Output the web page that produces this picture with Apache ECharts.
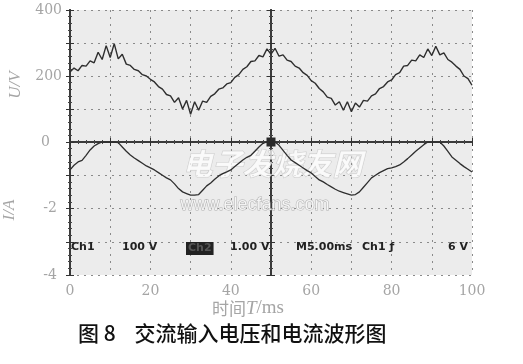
<!DOCTYPE html>
<html><head><meta charset="utf-8">
<script src="https://cdn.jsdelivr.net/npm/echarts@6/dist/echarts.min.js"></script>
<style>html,body{margin:0;padding:0;background:#fff}#c{width:523px;height:364px}</style>
</head><body><div id="c"></div>
<script>
// time axis (ms)
var timeMs = [];
for (var i = 0; i <= 100; i++) timeMs.push(i);
// input voltage U/V, read every 1 ms (noisy oscilloscope trace)
var voltage = [212,224,216,232,230,246,240,272,250,292,256,298,252,266,236,232,220,216,204,200,
  190,182,168,160,144,140,120,134,100,126,84,122,96,124,120,138,146,160,164,176,
  180,196,204,220,228,244,246,262,258,282,266,284,260,264,248,244,230,224,210,202,
  186,178,162,152,136,132,112,122,96,122,92,118,106,126,124,140,146,162,168,182,
  188,204,210,230,232,248,246,264,256,282,262,290,264,270,250,242,230,220,200,192,172];
// input current I/A, read every 1 ms
var current = [-0.84,-0.7,-0.6,-0.55,-0.4,-0.24,-0.12,-0.05,0,0,0,0,-0.02,-0.15,-0.28,-0.39,-0.48,-0.56,-0.64,-0.72,
  -0.78,-0.84,-0.92,-1.0,-1.08,-1.14,-1.26,-1.4,-1.5,-1.55,-1.6,-1.6,-1.58,-1.45,-1.32,-1.23,-1.12,-1.02,-0.95,-0.9,
  -0.84,-0.74,-0.64,-0.54,-0.46,-0.4,-0.28,-0.15,-0.04,0,0,0,-0.1,-0.25,-0.4,-0.54,-0.62,-0.7,-0.78,-0.86,
  -0.93,-1.04,-1.14,-1.2,-1.28,-1.35,-1.42,-1.48,-1.52,-1.56,-1.6,-1.58,-1.5,-1.36,-1.22,-1.08,-1.0,-0.92,-0.86,-0.8,
  -0.78,-0.74,-0.69,-0.6,-0.5,-0.39,-0.28,-0.18,-0.08,0,0,0,0,-0.12,-0.28,-0.45,-0.55,-0.65,-0.74,-0.82,-0.9];
var xTickLabels = [0,20,40,60,80,100];
var uTickLabels = [400,200,0];
var iTickLabels = [-2,-4];

var labelFont = {fontFamily:'DejaVu Serif', fontSize:14, color:'#a5a5a5'};
var split = {show:true, lineStyle:{color:'#8a8a8a', type:[2,5], width:1}};
var border = {show:true, lineStyle:{color:'#3a3a3a', width:2}};
function tickAx(extra){
  return Object.assign({
    axisLine:border,
    axisTick:{show:true, inside:true, length:4, lineStyle:{color:'#333'}},
    minorTick:{show:true, splitNumber:5, length:2, lineStyle:{color:'#444'}},
    axisLabel:{show:false}, splitLine:{show:false}
  }, extra);
}
var xBase = {type:'value', min:0, max:100, interval:10};
var gridBase = {left:70, width:402, show:true, backgroundColor:'#ececec', borderWidth:0, containLabel:false, outerBoundsMode:'none'};

var chart = echarts.init(document.getElementById('c'), null, {renderer:'canvas'});
chart.setOption({
  animation:false,
  backgroundColor:'#fff',
  grid:[
    Object.assign({top:10, height:132}, gridBase),
    Object.assign({top:142, height:133}, gridBase)
  ],
  xAxis:[
    tickAx(Object.assign({gridIndex:0, position:'bottom', splitLine:split}, xBase)),
    tickAx(Object.assign({gridIndex:0, position:'top'}, xBase)),
    tickAx(Object.assign({gridIndex:1, position:'top', splitLine:split}, xBase)),
    tickAx(Object.assign({gridIndex:1, position:'bottom',
      axisLabel:{show:true, margin:9, fontFamily:labelFont.fontFamily, fontSize:labelFont.fontSize, color:labelFont.color,
        formatter:function(v){return xTickLabels.indexOf(v)>=0 ? String(v) : '';}}}, xBase))
  ],
  yAxis:[
    tickAx({gridIndex:0, type:'value', min:0, max:400, interval:100, position:'left', splitLine:split,
      axisLabel:{show:true, margin:8, fontFamily:labelFont.fontFamily, fontSize:labelFont.fontSize, color:labelFont.color,
        rich:{z:{fontFamily:labelFont.fontFamily, fontSize:labelFont.fontSize, color:labelFont.color, padding:[0,12,0,0]}},
        formatter:function(v){ if (uTickLabels.indexOf(v)<0) return ''; return v===0 ? '{z|0}' : String(v);}}}),
    tickAx({gridIndex:0, type:'value', min:0, max:400, interval:100, position:'right'}),
    tickAx({gridIndex:0, type:'value', min:0, max:400, interval:100, position:'left', offset:-201}),
    tickAx({gridIndex:0, type:'value', min:0, max:400, interval:100, position:'left', offset:-201,
      axisTick:{show:true, inside:false, length:4, lineStyle:{color:'#333'}}}),
    tickAx({gridIndex:1, type:'value', min:-4, max:0, interval:1, position:'left', splitLine:split,
      axisLabel:{show:true, margin:13, fontFamily:labelFont.fontFamily, fontSize:labelFont.fontSize, color:labelFont.color,
        formatter:function(v){return iTickLabels.indexOf(v)>=0 ? String(v) : '';}}}),
    tickAx({gridIndex:1, type:'value', min:-4, max:0, interval:1, position:'right'}),
    tickAx({gridIndex:1, type:'value', min:-4, max:0, interval:1, position:'left', offset:-201}),
    tickAx({gridIndex:1, type:'value', min:-4, max:0, interval:1, position:'left', offset:-201,
      axisTick:{show:true, inside:false, length:4, lineStyle:{color:'#333'}}})
  ],
  series:[
    {type:'line', name:'U', xAxisIndex:0, yAxisIndex:0, showSymbol:false, symbol:'none',
      lineStyle:{color:'#2e2e2e', width:1.4},
      data:timeMs.map(function(t,i){return [t, voltage[i]];})},
    {type:'line', name:'I', xAxisIndex:2, yAxisIndex:4, showSymbol:false, symbol:'none',
      lineStyle:{color:'#2e2e2e', width:1.3},
      markPoint:{symbol:'rect', symbolSize:9, silent:true, label:{show:false},
        itemStyle:{color:'#2a2a2a'}, data:[{coord:[50,0]}]},
      data:timeMs.map(function(t,i){return [t, current[i]];})}
  ],
  graphic:[
    {type:'text', x:16, y:85, rotation:Math.PI/2, style:{text:'U/V', textAlign:'center', textVerticalAlign:'middle', fontFamily:'Liberation Serif', fontStyle:'italic', fontSize:17, fill:'#a5a5a5'}},
    {type:'text', x:10, y:210, rotation:Math.PI/2, style:{text:'I/A', textAlign:'center', textVerticalAlign:'middle', fontFamily:'Liberation Serif', fontStyle:'italic', fontSize:17, fill:'#a5a5a5'}},
    {type:'text', left:182, top:148, z:1, style:{text:'电子发烧友网', fontFamily:'Noto Sans CJK SC', fontStyle:'italic', fontWeight:'bold', fontSize:30, fill:'rgba(255,255,255,0.75)', stroke:'rgba(170,170,170,0.5)', lineWidth:1}},
    {type:'text', left:180, top:196, z:1, style:{text:'www.elecfans.com', fontFamily:'Liberation Sans', fontSize:18, fill:'rgba(255,255,255,0.8)', stroke:'rgba(150,150,150,0.7)', lineWidth:1}},
    {type:'text', left:71, top:242, z:10, style:{text:'Ch1', fontFamily:'DejaVu Sans', fontWeight:'bold', fontSize:11, fill:'#222'}},
    {type:'text', left:122, top:242, z:10, style:{text:'100 V', fontFamily:'DejaVu Sans', fontWeight:'bold', fontSize:11, fill:'#222'}},
    {type:'text', left:186, top:242, z:10, style:{text:'Ch2', fontFamily:'DejaVu Sans', fontWeight:'bold', fontSize:11, fill:'#555', backgroundColor:'#222', padding:[1,2]}},
    {type:'text', left:230, top:242, z:10, style:{text:'1.00 V', fontFamily:'DejaVu Sans', fontWeight:'bold', fontSize:11, fill:'#222'}},
    {type:'text', left:296, top:242, z:10, style:{text:'M5.00ms', fontFamily:'DejaVu Sans', fontWeight:'bold', fontSize:11, fill:'#222'}},
    {type:'text', left:362, top:242, z:10, style:{text:'Ch1 ƒ', fontFamily:'DejaVu Sans', fontWeight:'bold', fontSize:11, fill:'#222'}},
    {type:'text', left:448, top:242, z:10, style:{text:'6 V', fontFamily:'DejaVu Sans', fontWeight:'bold', fontSize:11, fill:'#222'}},
    {type:'text', left:212, top:299, style:{rich:{a:{fontFamily:'Noto Sans CJK SC', fontSize:17, fill:'#a5a5a5'}, b:{fontFamily:'Liberation Serif', fontStyle:'italic', fontSize:19, fill:'#a5a5a5'}, c:{fontFamily:'Liberation Serif', fontSize:19, fill:'#a5a5a5'}}, text:'{a|时间}{b|T}{c|/ms}'}},
    {type:'text', left:78, top:323, style:{text:'图 8    交流输入电压和电流波形图', fontFamily:'Noto Sans CJK SC', fontWeight:'500', fontSize:21, fill:'#111'}}
  ]
});
</script></body></html>
